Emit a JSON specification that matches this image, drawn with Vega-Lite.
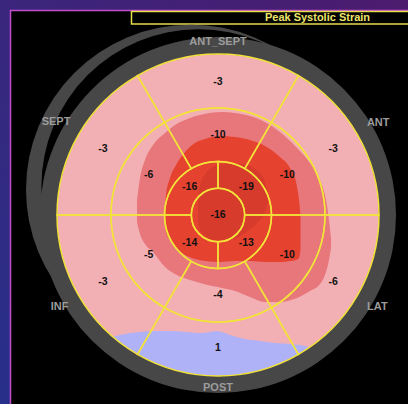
{
  "$schema": "https://vega.github.io/schema/vega-lite/v6.json",
  "width": 360,
  "height": 360,
  "autosize": "none",
  "padding": {"left": 38, "top": 35, "right": 10, "bottom": 9},
  "background": "#000000",
  "config": {"view": {"stroke": null}},
  "datasets": {
    "segs": [
      {"seg": 1, "ring": "basal", "wall": "ANT_SEPT", "v": -3, "a0": -30, "a1": 30, "am": 0, "r0": 107, "r1": 161, "rm": 133},
      {"seg": 2, "ring": "basal", "wall": "ANT", "v": -3, "a0": 30, "a1": 90, "am": 60, "r0": 107, "r1": 161, "rm": 133},
      {"seg": 3, "ring": "basal", "wall": "LAT", "v": -6, "a0": 90, "a1": 150, "am": 120, "r0": 107, "r1": 161, "rm": 133},
      {"seg": 4, "ring": "basal", "wall": "POST", "v": 1, "a0": 150, "a1": 210, "am": 180, "r0": 107, "r1": 161, "rm": 133},
      {"seg": 5, "ring": "basal", "wall": "INF", "v": -3, "a0": 210, "a1": 270, "am": 240, "r0": 107, "r1": 161, "rm": 133},
      {"seg": 6, "ring": "basal", "wall": "SEPT", "v": -3, "a0": 270, "a1": 330, "am": 300, "r0": 107, "r1": 161, "rm": 133},
      {"seg": 7, "ring": "mid", "wall": "ANT_SEPT", "v": -10, "a0": -30, "a1": 30, "am": 0, "r0": 53.5, "r1": 107, "rm": 80},
      {"seg": 8, "ring": "mid", "wall": "ANT", "v": -10, "a0": 30, "a1": 90, "am": 60, "r0": 53.5, "r1": 107, "rm": 80},
      {"seg": 9, "ring": "mid", "wall": "LAT", "v": -10, "a0": 90, "a1": 150, "am": 120, "r0": 53.5, "r1": 107, "rm": 80},
      {"seg": 10, "ring": "mid", "wall": "POST", "v": -4, "a0": 150, "a1": 210, "am": 180, "r0": 53.5, "r1": 107, "rm": 80},
      {"seg": 11, "ring": "mid", "wall": "INF", "v": -5, "a0": 210, "a1": 270, "am": 240, "r0": 53.5, "r1": 107, "rm": 80},
      {"seg": 12, "ring": "mid", "wall": "SEPT", "v": -6, "a0": 270, "a1": 330, "am": 300, "r0": 53.5, "r1": 107, "rm": 80},
      {"seg": 13, "ring": "apical", "wall": "ANT", "v": -19, "a0": 0, "a1": 90, "am": 45, "r0": 26.7, "r1": 53.5, "rm": 40},
      {"seg": 14, "ring": "apical", "wall": "LAT", "v": -13, "a0": 90, "a1": 180, "am": 135, "r0": 26.7, "r1": 53.5, "rm": 40},
      {"seg": 15, "ring": "apical", "wall": "INF", "v": -14, "a0": 180, "a1": 270, "am": 225, "r0": 26.7, "r1": 53.5, "rm": 40},
      {"seg": 16, "ring": "apical", "wall": "SEPT", "v": -16, "a0": 270, "a1": 360, "am": 315, "r0": 26.7, "r1": 53.5, "rm": 40},
      {"seg": 17, "ring": "apex", "wall": "APEX", "v": -16, "a0": 0, "a1": 360, "am": 0, "r0": 0, "r1": 26.7, "rm": 0}
    ],
    "walls": [
      {"name": "ANT_SEPT", "am": 0, "rm": 173},
      {"name": "ANT", "am": 60, "rm": 185},
      {"name": "LAT", "am": 120, "rm": 184},
      {"name": "POST", "am": 180, "rm": 173},
      {"name": "INF", "am": 240, "rm": 183},
      {"name": "SEPT", "am": 300, "rm": 187}
    ],
    "pinkBlob": [
      {"x": -81, "top": 15, "bot": -7},
      {"x": -78, "top": 37, "bot": -19},
      {"x": -73, "top": 55, "bot": -29},
      {"x": -65, "top": 70, "bot": -37},
      {"x": -53, "top": 82, "bot": -52},
      {"x": -43, "top": 90, "bot": -59},
      {"x": -28, "top": 97, "bot": -65},
      {"x": -18, "top": 100, "bot": -68},
      {"x": 4, "top": 103, "bot": -73},
      {"x": 17, "top": 102, "bot": -76},
      {"x": 32, "top": 99, "bot": -82},
      {"x": 47, "top": 93, "bot": -87},
      {"x": 62, "top": 83, "bot": -87},
      {"x": 79, "top": 67, "bot": -83},
      {"x": 92, "top": 52, "bot": -76},
      {"x": 102, "top": 35, "bot": -69},
      {"x": 108, "top": 15, "bot": -57},
      {"x": 111, "top": -5, "bot": -45},
      {"x": 113, "top": -23, "bot": -33}
    ],
    "redBlob": [
      {"x": -53, "top": 10, "bot": -7},
      {"x": -52, "top": 20, "bot": -17},
      {"x": -48, "top": 37, "bot": -25},
      {"x": -42, "top": 50, "bot": -33},
      {"x": -33, "top": 63, "bot": -40},
      {"x": -23, "top": 72, "bot": -44},
      {"x": -13, "top": 76, "bot": -46},
      {"x": 2, "top": 79, "bot": -47},
      {"x": 17, "top": 78, "bot": -46},
      {"x": 32, "top": 75, "bot": -46},
      {"x": 47, "top": 69, "bot": -47},
      {"x": 62, "top": 58, "bot": -47},
      {"x": 72, "top": 47, "bot": -46},
      {"x": 78, "top": 33, "bot": -45},
      {"x": 81, "top": 15, "bot": -43},
      {"x": 82.5, "top": 0, "bot": -35}
    ],
    "darkBlob": [
      {"x": -20, "top": 15, "bot": -7},
      {"x": -18, "top": 30, "bot": -15},
      {"x": -11, "top": 43, "bot": -22},
      {"x": -3, "top": 49, "bot": -25},
      {"x": 12, "top": 51, "bot": -25},
      {"x": 27, "top": 50, "bot": -18},
      {"x": 40, "top": 44, "bot": -7},
      {"x": 47, "top": 33, "bot": 3},
      {"x": 50, "top": 20, "bot": 13}
    ],
    "blueBlob": [
      {"x": -106, "top": -122, "bot": -125},
      {"x": -98, "top": -120, "bot": -132},
      {"x": -88, "top": -118, "bot": -139},
      {"x": -78, "top": -117, "bot": -145},
      {"x": -63, "top": -116, "bot": -152},
      {"x": -48, "top": -116, "bot": -158},
      {"x": -33, "top": -117, "bot": -162},
      {"x": -18, "top": -118, "bot": -164},
      {"x": -8, "top": -117, "bot": -165},
      {"x": -1, "top": -116, "bot": -165},
      {"x": 12, "top": -120, "bot": -165},
      {"x": 27, "top": -124, "bot": -163},
      {"x": 42, "top": -126, "bot": -159},
      {"x": 57, "top": -128, "bot": -155},
      {"x": 72, "top": -129, "bot": -148},
      {"x": 82, "top": -130, "bot": -143},
      {"x": 92, "top": -132, "bot": -136},
      {"x": 96, "top": -133, "bot": -134}
    ]
  },
  "layer": [
    {
      "data": {"values": [{}]},
      "mark": {"type": "rect", "fill": {"gradient": "linear", "x1": 1, "y1": 0, "x2": 0, "y2": 1, "stops": [{"offset": 0, "color": "#4c1b6e"}, {"offset": 1, "color": "#27308a"}]}},
      "encoding": {
        "x": {"datum": -218, "type": "quantitative", "scale": {"domain": [-180, 180], "nice": false, "zero": false}, "axis": null},
        "x2": {"datum": 190},
        "y": {"datum": 215, "type": "quantitative", "scale": {"domain": [-180, 180], "nice": false, "zero": false}, "axis": null},
        "y2": {"datum": -189}
      }
    },
    {
      "data": {"values": [{}]},
      "mark": {"type": "rect", "fill": "#000000", "stroke": "#c24ccc", "strokeWidth": 1.5},
      "encoding": {
        "x": {"datum": -207.5, "type": "quantitative"},
        "x2": {"datum": 192},
        "y": {"datum": 204.5, "type": "quantitative"},
        "y2": {"datum": -192}
      }
    },
    {
      "data": {"values": [{}]},
      "mark": {"type": "rect", "fill": "#000000", "stroke": "#e6dc4c", "strokeWidth": 1.5},
      "encoding": {
        "x": {"datum": -86.5, "type": "quantitative"},
        "x2": {"datum": 193},
        "y": {"datum": 203.5, "type": "quantitative"},
        "y2": {"datum": 191}
      }
    },
    {
      "data": {"values": [{}]},
      "mark": {"type": "text", "text": "Peak Systolic Strain", "font": "Liberation Sans", "fontSize": 11, "fontWeight": "bold", "color": "#ece46a", "align": "center", "baseline": "middle"},
      "encoding": {
        "x": {"datum": 99.5, "type": "quantitative"},
        "y": {"datum": 197.5, "type": "quantitative"}
      }
    },
    {
      "data": {"values": [{}]},
      "mark": {"type": "point", "shape": "circle", "filled": true, "size": 108636, "fill": "#474747", "strokeWidth": 0, "opacity": 1},
      "encoding": {
        "x": {"datum": -27.2, "type": "quantitative"},
        "y": {"datum": 25.5, "type": "quantitative"}
      }
    },
    {
      "data": {"values": [{}]},
      "mark": {"type": "point", "shape": "circle", "filled": true, "size": 98847, "fill": "#000000", "strokeWidth": 0, "opacity": 1},
      "encoding": {
        "x": {"datum": -19.4, "type": "quantitative"},
        "y": {"datum": 28.5, "type": "quantitative"}
      }
    },
    {
      "data": {"values": [{}]},
      "mark": {"type": "arc", "fill": "#f2b0b4"},
      "encoding": {
        "theta": {"datum": 0, "type": "quantitative", "scale": {"domain": [0, 360], "range": [0, 6.283185307179586]}, "stack": null},
        "theta2": {"datum": 360},
        "radius": {"datum": 161, "type": "quantitative", "scale": {"type": "linear", "domain": [0, 180], "range": [0, 180], "zero": true, "nice": false}}
      }
    },
    {
      "data": {"name": "pinkBlob"},
      "mark": {"type": "area", "fill": "#e8777b", "interpolate": "monotone"},
      "encoding": {
        "x": {"field": "x", "type": "quantitative"},
        "y": {"field": "top", "type": "quantitative", "stack": null},
        "y2": {"field": "bot"}
      }
    },
    {
      "data": {"name": "redBlob"},
      "mark": {"type": "area", "fill": "#e5432f", "interpolate": "monotone"},
      "encoding": {
        "x": {"field": "x", "type": "quantitative"},
        "y": {"field": "top", "type": "quantitative", "stack": null},
        "y2": {"field": "bot"}
      }
    },
    {
      "data": {"name": "darkBlob"},
      "mark": {"type": "area", "fill": "#d73b2c", "interpolate": "monotone"},
      "encoding": {
        "x": {"field": "x", "type": "quantitative"},
        "y": {"field": "top", "type": "quantitative", "stack": null},
        "y2": {"field": "bot"}
      }
    },
    {
      "data": {"name": "blueBlob"},
      "mark": {"type": "area", "fill": "#b0b2f8", "interpolate": "monotone"},
      "encoding": {
        "x": {"field": "x", "type": "quantitative"},
        "y": {"field": "top", "type": "quantitative", "stack": null},
        "y2": {"field": "bot"}
      }
    },
    {
      "data": {"values": [{}]},
      "mark": {"type": "arc", "fill": "#474747"},
      "encoding": {
        "theta": {"datum": 0, "type": "quantitative", "stack": null},
        "theta2": {"datum": 360},
        "radius": {"datum": 178, "type": "quantitative"},
        "radius2": {"datum": 161}
      }
    },
    {
      "data": {"name": "segs"},
      "mark": {"type": "arc", "filled": false, "color": "#f2e23a", "strokeWidth": 1.5},
      "encoding": {
        "theta": {"field": "a0", "type": "quantitative", "stack": null},
        "theta2": {"field": "a1"},
        "radius": {"field": "r1", "type": "quantitative"},
        "radius2": {"field": "r0"}
      }
    },
    {
      "data": {"name": "segs"},
      "mark": {"type": "text", "font": "Liberation Sans", "fontSize": 10.5, "fontWeight": "bold", "color": "#111111", "align": "center", "baseline": "middle"},
      "encoding": {
        "theta": {"field": "am", "type": "quantitative", "stack": null},
        "radius": {"field": "rm", "type": "quantitative"},
        "text": {"field": "v", "type": "nominal"}
      }
    },
    {
      "data": {"name": "walls"},
      "mark": {"type": "text", "font": "Liberation Sans", "fontSize": 11, "fontWeight": "bold", "color": "#9c9c9c", "align": "center", "baseline": "middle"},
      "encoding": {
        "theta": {"field": "am", "type": "quantitative", "stack": null},
        "radius": {"field": "rm", "type": "quantitative"},
        "text": {"field": "name", "type": "nominal"}
      }
    }
  ]
}
